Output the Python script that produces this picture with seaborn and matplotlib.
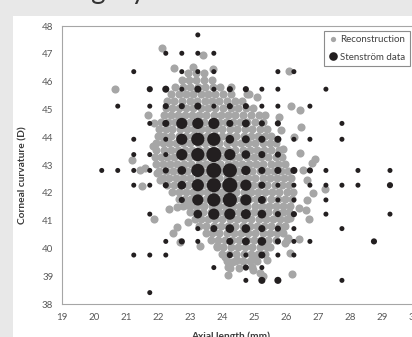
import matplotlib
matplotlib.use("Agg")
import matplotlib.pyplot as plt
import seaborn as sns
import pandas as pd
from matplotlib.patches import Rectangle
from matplotlib.lines import Line2D

# ---------------------------------------------------------------------------
# Stenström frequency grid: corneal power row (D) -> [(axial length bin, freq)]
# ---------------------------------------------------------------------------
sten_rows = {
    47.68: [(23.25, 1)],
    47.02: [(22.25, 1), (22.75, 1), (23.25, 1), (23.75, 1)],
    46.36: [(21.25, 1), (22.75, 1), (23.25, 1), (23.75, 1), (25.75, 1), (26.25, 1)],
    45.73: [(21.75, 1.5), (22.25, 2), (22.75, 1), (23.25, 2), (23.75, 1), (24.25, 1.5),
            (24.75, 1.5), (25.25, 1), (25.75, 1), (27.25, 1)],
    45.12: [(20.75, 1), (21.75, 1), (22.25, 1.5), (22.75, 1.5), (23.25, 2), (23.75, 1),
            (24.25, 1.5), (24.75, 1.5), (25.25, 1), (25.75, 1), (26.75, 1)],
    44.50: [(21.75, 1), (22.25, 2), (22.75, 5), (23.25, 5), (23.75, 5), (24.25, 2),
            (24.75, 2.5), (25.25, 1.5), (25.75, 1.5), (27.75, 1)],
    43.93: [(21.25, 1), (22.25, 1), (22.75, 5), (23.25, 7), (23.75, 7), (24.25, 3),
            (24.75, 2.5), (25.25, 2), (25.75, 2), (26.25, 1), (26.75, 1), (27.75, 1)],
    43.38: [(21.25, 1), (21.75, 1), (22.25, 1), (22.75, 5), (23.25, 7), (23.75, 9),
            (24.25, 5), (24.75, 3), (25.25, 2), (25.75, 1.5)],
    42.81: [(20.25, 1), (20.75, 1), (21.25, 1), (21.75, 1), (22.25, 1.5), (22.75, 3),
            (23.25, 7), (23.75, 9), (24.25, 8), (24.75, 3.5), (25.25, 2), (25.75, 2),
            (26.25, 2), (26.75, 1.5), (27.25, 1), (28.25, 1), (29.25, 1)],
    42.28: [(21.25, 1), (21.75, 1), (22.25, 1.5), (22.75, 3), (23.25, 6), (23.75, 8),
            (24.25, 9), (24.75, 5), (25.25, 2), (25.75, 1), (26.25, 1), (26.75, 1),
            (27.25, 1), (27.75, 1), (28.25, 1), (29.25, 1.5)],
    41.75: [(22.75, 1.5), (23.25, 5), (23.75, 7), (24.25, 8), (24.75, 5), (25.25, 2.5),
            (25.75, 1), (26.25, 1), (27.25, 1)],
    41.24: [(21.75, 1), (23.25, 3), (23.75, 5), (24.25, 5), (24.75, 4), (25.25, 3),
            (25.75, 1.5), (26.25, 1.5), (27.25, 1), (29.25, 1)],
    40.72: [(23.25, 1), (23.75, 2), (24.25, 3), (24.75, 3), (25.25, 2), (25.75, 1.5),
            (26.25, 1), (27.75, 1)],
    40.26: [(22.25, 1), (22.75, 1.5), (23.25, 1), (24.25, 2), (24.75, 2.5), (25.25, 3),
            (25.75, 1.5), (26.25, 1), (26.75, 1), (28.75, 1.5)],
    39.77: [(21.25, 1), (21.75, 1), (22.25, 1), (24.25, 1.5), (24.75, 1), (25.25, 2),
            (25.75, 1), (26.25, 1)],
    39.32: [(23.75, 1), (24.75, 1.5), (25.25, 1)],
    38.86: [(24.75, 1), (25.25, 2), (25.75, 2), (27.75, 1)],
    38.42: [(21.75, 1)],
}

# ---------------------------------------------------------------------------
# Reconstructed eyes: dense core (corneal power -> axial lengths) + stragglers
# ---------------------------------------------------------------------------
recon_core = {
    46.30: [22.95, 23.20, 23.45],
    46.05: [22.75, 22.98, 23.20, 23.45, 23.70],
    45.80: [22.55, 22.78, 23.00, 23.25, 23.48, 23.72, 23.95, 24.30],
    45.55: [22.40, 22.65, 22.88, 23.10, 23.35, 23.58, 23.80, 24.05, 24.30, 24.80],
    45.30: [22.30, 22.52, 22.76, 23.00, 23.22, 23.46, 23.70, 23.92, 24.15, 24.40, 24.62],
    45.05: [22.25, 22.45, 22.65, 22.88, 23.10, 23.35, 23.58, 23.80, 24.05, 24.28, 24.50,
            24.75, 24.98],
    44.80: [22.20, 22.40, 22.62, 22.85, 23.08, 23.30, 23.52, 23.75, 23.98, 24.20, 24.42,
            24.65, 24.90, 25.15, 25.35],
    44.55: [22.10, 22.32, 22.55, 22.78, 23.00, 23.22, 23.45, 23.68, 23.90, 24.12, 24.35,
            24.58, 24.80, 25.05, 25.30],
    44.30: [22.05, 22.25, 22.45, 22.68, 22.90, 23.12, 23.35, 23.58, 23.80, 24.02, 24.25,
            24.48, 24.72, 24.95, 25.18, 25.42],
    44.05: [22.00, 22.20, 22.42, 22.65, 22.88, 23.10, 23.32, 23.55, 23.78, 24.00, 24.22,
            24.45, 24.68, 24.90, 25.12, 25.35, 25.55],
    43.80: [21.95, 22.15, 22.35, 22.58, 22.80, 23.02, 23.25, 23.48, 23.70, 23.92, 24.15,
            24.38, 24.60, 24.82, 25.05, 25.28, 25.50, 25.70],
    43.55: [21.95, 22.18, 22.40, 22.62, 22.85, 23.08, 23.30, 23.52, 23.75, 23.98, 24.20,
            24.42, 24.65, 24.88, 25.10, 25.32, 25.55, 25.78],
    43.30: [21.90, 22.10, 22.30, 22.52, 22.75, 22.98, 23.20, 23.42, 23.65, 23.88, 24.10,
            24.32, 24.55, 24.78, 25.00, 25.22, 25.45, 25.68, 25.88],
    43.05: [21.95, 22.15, 22.38, 22.60, 22.82, 23.05, 23.28, 23.50, 23.72, 23.95, 24.18,
            24.40, 24.62, 24.85, 25.08, 25.30, 25.52, 25.75, 25.98],
    42.80: [22.05, 22.25, 22.48, 22.70, 22.92, 23.15, 23.38, 23.60, 23.82, 24.05, 24.28,
            24.50, 24.72, 24.95, 25.18, 25.40, 25.62, 25.85, 26.08],
    42.55: [22.15, 22.35, 22.58, 22.80, 23.02, 23.25, 23.48, 23.70, 23.92, 24.15, 24.38,
            24.60, 24.82, 25.05, 25.28, 25.50, 25.72, 25.95, 26.15],
    42.30: [22.30, 22.50, 22.72, 22.95, 23.18, 23.40, 23.62, 23.85, 24.08, 24.30, 24.52,
            24.75, 24.98, 25.20, 25.42, 25.65, 25.88, 26.10],
    42.05: [22.45, 22.65, 22.88, 23.10, 23.32, 23.55, 23.78, 24.00, 24.22, 24.45, 24.68,
            24.90, 25.12, 25.35, 25.58, 25.80, 26.02, 26.22],
    41.80: [22.65, 22.85, 23.05, 23.28, 23.50, 23.72, 23.95, 24.18, 24.40, 24.62, 24.85,
            25.08, 25.30, 25.52, 25.75, 25.98, 26.18],
    41.55: [22.80, 23.00, 23.22, 23.45, 23.68, 23.90, 24.12, 24.35, 24.58, 24.80, 25.02,
            25.25, 25.48, 25.70, 25.92, 26.12],
    41.30: [23.00, 23.20, 23.42, 23.65, 23.88, 24.10, 24.32, 24.55, 24.78, 25.00, 25.22,
            25.45, 25.68, 25.90, 26.10],
    41.05: [23.15, 23.35, 23.58, 23.80, 24.02, 24.25, 24.48, 24.70, 24.92, 25.15, 25.38,
            25.60, 25.82, 26.05],
    40.80: [23.30, 23.52, 23.75, 23.98, 24.20, 24.42, 24.65, 24.88, 25.10, 25.32, 25.55,
            25.78, 25.98],
    40.55: [23.50, 23.70, 23.92, 24.15, 24.38, 24.60, 24.82, 25.05, 25.28, 25.50, 25.72,
            25.92],
    40.30: [23.65, 23.88, 24.10, 24.32, 24.55, 24.78, 25.00, 25.22, 25.45, 25.68],
    40.05: [23.85, 24.05, 24.28, 24.50, 24.72, 24.95, 25.18, 25.40],
    39.80: [24.00, 24.22, 24.45, 24.68, 24.90, 25.12, 25.35],
    39.55: [24.15, 24.40, 24.65, 24.88, 25.10],
    39.30: [24.25, 24.55],
}

recon_extra_axial = [22.12, 23.42, 22.51, 23.09, 23.72, 26.11, 20.66, 21.68, 21.89, 24.85,
                     26.16, 26.45, 26.47, 26.26, 25.85, 25.92, 26.44, 26.80, 26.91, 26.54,
                     26.65, 26.86, 27.22, 26.65, 26.41, 26.72, 26.02, 26.42, 26.13, 26.20,
                     26.63, 21.19, 21.44, 21.60, 21.50, 21.86, 22.07, 21.89, 22.36, 22.59,
                     22.46, 22.69, 22.95, 22.61, 22.90, 23.32, 23.84, 24.10, 24.31, 24.20,
                     24.46, 24.93, 25.04, 25.40, 25.19, 24.20, 24.96, 25.27, 25.50, 25.97,
                     25.87, 26.13, 26.06, 25.79, 25.10, 21.98, 22.07]
recon_extra_k = [47.20, 46.96, 46.48, 46.54, 46.45, 46.40, 45.73, 44.80, 44.53, 45.55,
                 45.13, 44.98, 44.38, 44.02, 44.26, 43.59, 43.43, 43.09, 43.21, 42.83,
                 42.47, 42.01, 42.13, 41.75, 41.45, 41.05, 40.31, 40.34, 39.85, 39.09,
                 41.39, 43.18, 42.83, 42.89, 42.25, 43.69, 44.05, 41.05, 41.41, 41.51,
                 40.57, 40.25, 40.97, 40.79, 41.57, 40.10, 40.10, 39.71, 39.53, 39.35,
                 39.59, 39.35, 39.71, 39.59, 39.11, 39.05, 39.23, 39.02, 40.07, 40.19,
                 40.61, 41.09, 40.37, 44.74, 45.45, 42.71, 42.47]

x_ticks = list(range(19, 31))
y_ticks = list(range(38, 49))

GRAY = "#a6a6a6"
BLACK = "#231f20"
TEXT = "#595959"

# ---------------------------------------------------------------------------
sns.set_style("white")
plt.rcParams["font.family"] = ["Lato", "DejaVu Sans"]

sten_df = pd.DataFrame(
    [(ax_len, k, f) for k, cells in sten_rows.items() for ax_len, f in cells],
    columns=["axial", "k", "freq"],
)
recon_df = pd.DataFrame(
    [(x, k) for k, xs in recon_core.items() for x in xs]
    + list(zip(recon_extra_axial, recon_extra_k)),
    columns=["axial", "k"],
)

W, H = 412, 337
fig = plt.figure(figsize=(W / 100, H / 100), dpi=100)
fig.patch.set_facecolor("#e8e8e8")
fig.patches.append(Rectangle((13 / W, 0), 1, (H - 16) / H, transform=fig.transFigure,
                             facecolor="white", edgecolor="none", zorder=-10))

left, right, top, bottom = 61.7, 414.0, 26.0, 304.3
ax = fig.add_axes([left / W, (H - bottom) / H, (right - left) / W, (bottom - top) / H])
ax.set_zorder(5)
ax.set_facecolor("white")

sns.scatterplot(data=recon_df, x="axial", y="k", color=GRAY, s=34, linewidth=0,
                ax=ax, legend=False, zorder=2)
sns.scatterplot(data=sten_df, x="axial", y="k", size="freq", sizes=(13, 117),
                size_norm=(1, 9), color=BLACK, linewidth=0, ax=ax, legend=False, zorder=3)

ax.set_xlim(19, 30)
ax.set_ylim(38, 48)
ax.set_xticks(x_ticks)
ax.set_yticks(y_ticks)
ax.set_xlabel("")
ax.set_ylabel("")
for side in ("top", "left", "bottom"):
    ax.spines[side].set_color("#a6a6a6")
    ax.spines[side].set_linewidth(0.8)
ax.spines["right"].set_visible(False)
ax.tick_params(axis="both", direction="out", length=3, width=0.8, color="#a6a6a6",
               labelcolor=TEXT, labelsize=7)
ax.tick_params(axis="x", pad=3)
ax.tick_params(axis="y", pad=3)

handles = [
    Line2D([], [], marker="o", ls="", color=GRAY, markersize=3.8, markeredgewidth=0),
    Line2D([], [], marker="o", ls="", color=BLACK, markersize=6.2, markeredgewidth=0),
]
leg = ax.legend(handles, ["Reconstruction", "Stenström data"], loc="upper right",
                bbox_to_anchor=(410 / W, (H - 31) / H), bbox_transform=fig.transFigure,
                frameon=True, fancybox=False, framealpha=1, edgecolor="#8c8c8c",
                fontsize=7, handlelength=0.9, handletextpad=0.35, borderpad=0.45,
                labelspacing=0.85, borderaxespad=0)
leg.get_frame().set_linewidth(0.8)
for t in leg.get_texts():
    t.set_color("#404040")

fig.text(23 / W, 1 - 175 / H, "Corneal curvature (D)", rotation=90, ha="center",
         va="center", fontsize=7.3, fontweight="bold", color="#3a3a3a")
fig.text(231 / W, 1 - 331 / H, "Axial length (mm)", ha="center", va="top",
         fontsize=7.3, fontweight="bold", color="#3a3a3a")
fig.text(35 / W, 1 + 1 / H, "Category", ha="left", va="baseline", fontsize=20,
         color="#333333")

fig.savefig("out.png", dpi=100, facecolor=fig.get_facecolor())
